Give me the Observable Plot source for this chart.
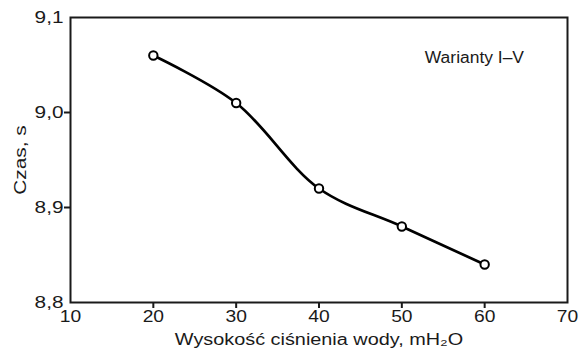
<!DOCTYPE html>
<html>
<head>
<meta charset="utf-8">
<script src="https://cdn.jsdelivr.net/npm/d3@7"></script>
<script src="https://cdn.jsdelivr.net/npm/@observablehq/plot@0.6"></script>
<style>
  html, body { margin: 0; padding: 0; background: #fff; }
  #chart svg { display: block; }
</style>
</head>
<body>
<div id="chart"></div>
<script>
// ---- data ----
const pressure = [20, 30, 40, 50, 60];          // Wysokość ciśnienia wody, mH2O
const time = [9.06, 9.01, 8.92, 8.88, 8.84];    // Czas, s
const xTicks = [10, 20, 30, 40, 50, 60, 70];
const yTicks = [8.8, 8.9, 9.0, 9.1];
const xLabel = "Wysokość ciśnienia wody, mH₂O";
const yLabel = "Czas, s";
const note = "Warianty I–V";

const data = pressure.map((p, i) => ({p, t: time[i]}));
const xInner = xTicks.slice(1, -1);
const yInner = yTicks.slice(1, -1);
const ink = "#1a1a1a";

const chart = Plot.plot({
  width: 579,
  height: 349,
  marginLeft: 70,
  marginRight: 12,
  marginTop: 17,
  marginBottom: 47,
  style: {fontFamily: "'Liberation Sans', Arial, sans-serif", fontSize: "16px", color: ink, background: "#fff", overflow: "visible"},
  x: {domain: [10, 70]},
  y: {domain: [8.8, 9.1]},
  marks: [
    // tick marks (interior only)
    Plot.axisX({ticks: xInner, tickSize: 6, strokeWidth: 2, tickFormat: () => "", label: null}),
    Plot.axisY({ticks: yInner, tickSize: 6, strokeWidth: 2, tickFormat: () => "", label: null}),
    // tick labels and axis titles
    Plot.axisX({ticks: xTicks, tickSize: 0, tickPadding: 8, tickFormat: d => String(d),
      label: xLabel, labelAnchor: "center", labelArrow: "none", labelOffset: 42}),
    Plot.axisY({ticks: yTicks, tickSize: 0, tickPadding: 7,
      tickFormat: d => d.toFixed(1).replace(".", ","),
      label: yLabel, labelAnchor: "center", labelArrow: "none", labelOffset: 56}),
    Plot.frame({stroke: ink, strokeWidth: 2}),
    Plot.line(data, {x: "p", y: "t", curve: "catmull-rom", stroke: "#000", strokeWidth: 2.7}),
    Plot.dot(data, {x: "p", y: "t", r: 4.2, fill: "#fff", stroke: "#000", strokeWidth: 2}),
    Plot.text([note], {x: () => 58.76, y: () => 9.057, text: d => d, fontSize: 16, fill: ink})
  ]
});
document.getElementById("chart").append(chart);

// widen glyphs slightly to match the reference typeface proportions
function stretch(selector, k) {
  chart.querySelectorAll(selector).forEach(t => {
    const len = t.getComputedTextLength();
    if (len > 0) {
      t.setAttribute("textLength", (len * k).toFixed(1));
      t.setAttribute("lengthAdjust", "spacingAndGlyphs");
    }
  });
}
stretch('g[aria-label="y-axis tick label"] text', 1.3);
stretch('g[aria-label="x-axis tick label"] text', 1.2);
stretch('g[aria-label="y-axis label"] text', 1.3);
stretch('g[aria-label="x-axis label"] text', 1.24);
stretch('g[aria-label="text"] text', 1.09);
</script>
</body>
</html>
